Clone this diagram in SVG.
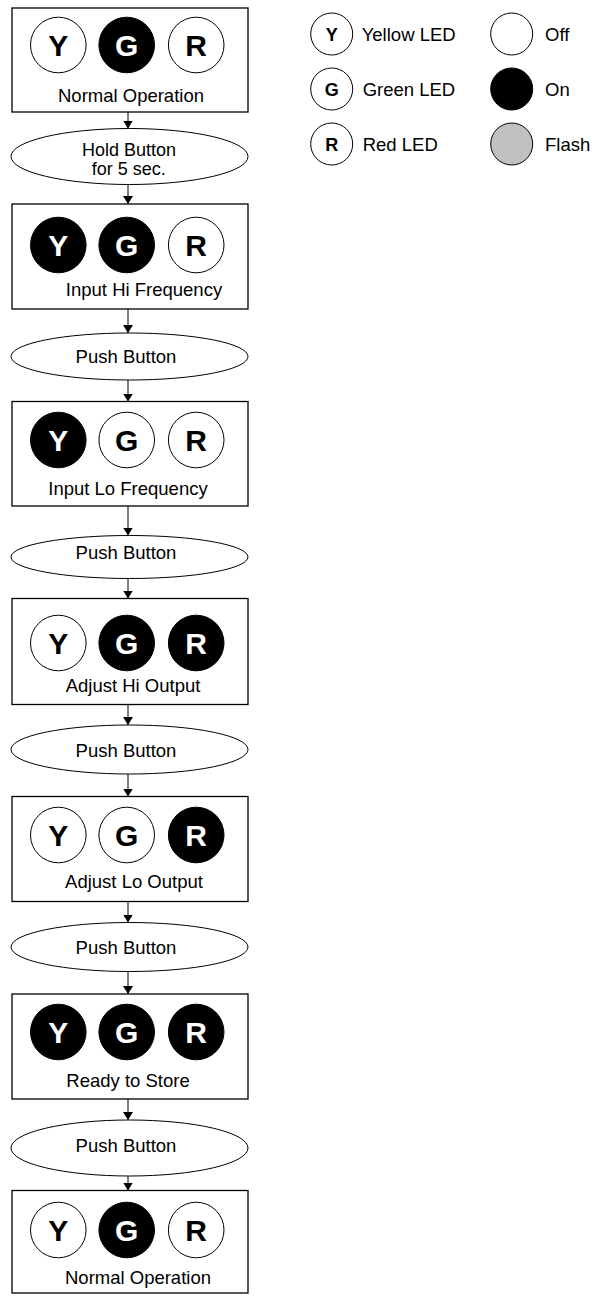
<svg xmlns="http://www.w3.org/2000/svg" width="594" height="1296" viewBox="0 0 594 1296">
<style>
text{font-family:"Liberation Sans",Arial,sans-serif;fill:#000}
.lbl{font-size:18.5px;text-anchor:middle}
.lbl2{font-size:18px;text-anchor:middle}
.leg{font-size:18.5px}
.L{font-size:30px;font-weight:bold;text-anchor:middle}
.Lw{font-size:30px;font-weight:bold;text-anchor:middle;fill:#fff}
.lg{font-size:18px;font-weight:bold;text-anchor:middle}
.box{fill:#fff;stroke:#000;stroke-width:1.3}
.off{fill:#fff;stroke:#000;stroke-width:1}
.on{fill:#000;stroke:#000;stroke-width:1}
.fl{fill:#c0c0c0;stroke:#000;stroke-width:1}
.ell{fill:#fff;stroke:#000;stroke-width:1}
.con{stroke:#000;stroke-width:1;fill:none;marker-end:url(#ah)}
</style>
<defs>
<marker id="ah" viewBox="0 0 8 10" refX="8" refY="5" markerWidth="8" markerHeight="10" orient="auto" markerUnits="userSpaceOnUse">
<path d="M0,0 L8,5 L0,10 z" fill="#000"/>
</marker>
</defs>
<g id="connectors">
<path class="con" d="M128,112 V128.5"/>
<path class="con" d="M128,184.5 V204"/>
<path class="con" d="M128,309 V333"/>
<path class="con" d="M128,380 V401.5"/>
<path class="con" d="M128,506 V535.5"/>
<path class="con" d="M128,578.5 V598.5"/>
<path class="con" d="M128,704.5 V725"/>
<path class="con" d="M128,774 V796.5"/>
<path class="con" d="M128,901.5 V922.5"/>
<path class="con" d="M128,971.5 V994"/>
<path class="con" d="M128,1099 V1120"/>
<path class="con" d="M128,1176 V1190.5"/>
</g>
<g id="state1">
<rect class="box" x="12" y="8" width="236" height="104"/>
<circle class="off" cx="58.3" cy="45" r="27.8"/><text class="L" x="58.3" y="55.5">Y</text>
<circle class="on" cx="126.7" cy="45" r="27.8"/><text class="Lw" x="126.7" y="55.5">G</text>
<circle class="off" cx="196.2" cy="45" r="27.8"/><text class="L" x="196.2" y="55.5">R</text>
<text class="lbl" x="131" y="101.5">Normal Operation</text>
</g>
<g id="event1">
<ellipse class="ell" cx="129.5" cy="156.5" rx="118.5" ry="28"/>
<text class="lbl2" x="129" y="155.5">Hold Button</text>
<text class="lbl2" x="128.7" y="175">for 5 sec.</text>
</g>
<g id="state2">
<rect class="box" x="12" y="204" width="236" height="105"/>
<circle class="on" cx="58.3" cy="245" r="27.8"/><text class="Lw" x="58.3" y="255.5">Y</text>
<circle class="on" cx="126.7" cy="245" r="27.8"/><text class="Lw" x="126.7" y="255.5">G</text>
<circle class="off" cx="196.2" cy="245" r="27.8"/><text class="L" x="196.2" y="255.5">R</text>
<text class="lbl" x="144" y="296">Input Hi Frequency</text>
</g>
<g id="event2">
<ellipse class="ell" cx="129.5" cy="356.5" rx="118.5" ry="23.5"/>
<text class="lbl" x="126" y="362.7">Push Button</text>
</g>
<g id="state3">
<rect class="box" x="12" y="401.5" width="236" height="104.5"/>
<circle class="on" cx="58.3" cy="440" r="27.8"/><text class="Lw" x="58.3" y="450.5">Y</text>
<circle class="off" cx="126.7" cy="440" r="27.8"/><text class="L" x="126.7" y="450.5">G</text>
<circle class="off" cx="196.2" cy="440" r="27.8"/><text class="L" x="196.2" y="450.5">R</text>
<text class="lbl" x="128" y="495">Input Lo Frequency</text>
</g>
<g id="event3">
<ellipse class="ell" cx="129.5" cy="557" rx="118.5" ry="21.5"/>
<text class="lbl" x="126" y="559.3">Push Button</text>
</g>
<g id="state4">
<rect class="box" x="12" y="598.5" width="236" height="106"/>
<circle class="off" cx="58.3" cy="643" r="27.8"/><text class="L" x="58.3" y="653.5">Y</text>
<circle class="on" cx="126.7" cy="643" r="27.8"/><text class="Lw" x="126.7" y="653.5">G</text>
<circle class="on" cx="196.2" cy="643" r="27.8"/><text class="Lw" x="196.2" y="653.5">R</text>
<text class="lbl" x="133" y="692.3">Adjust Hi Output</text>
</g>
<g id="event4">
<ellipse class="ell" cx="129.5" cy="749.5" rx="118.5" ry="24.5"/>
<text class="lbl" x="126" y="756.7">Push Button</text>
</g>
<g id="state5">
<rect class="box" x="12" y="796.5" width="236" height="105"/>
<circle class="off" cx="58.3" cy="835" r="27.8"/><text class="L" x="58.3" y="845.5">Y</text>
<circle class="off" cx="126.7" cy="835" r="27.8"/><text class="L" x="126.7" y="845.5">G</text>
<circle class="on" cx="196.2" cy="835" r="27.8"/><text class="Lw" x="196.2" y="845.5">R</text>
<text class="lbl" x="134" y="888.3">Adjust Lo Output</text>
</g>
<g id="event5">
<ellipse class="ell" cx="129.5" cy="947" rx="118.5" ry="24.5"/>
<text class="lbl" x="126" y="954.3">Push Button</text>
</g>
<g id="state6">
<rect class="box" x="12" y="994" width="236" height="105"/>
<circle class="on" cx="58.3" cy="1032" r="27.8"/><text class="Lw" x="58.3" y="1042.5">Y</text>
<circle class="on" cx="126.7" cy="1032" r="27.8"/><text class="Lw" x="126.7" y="1042.5">G</text>
<circle class="on" cx="196.2" cy="1032" r="27.8"/><text class="Lw" x="196.2" y="1042.5">R</text>
<text class="lbl" x="128" y="1086.7">Ready to Store</text>
</g>
<g id="event6">
<ellipse class="ell" cx="129.5" cy="1148" rx="118.5" ry="28"/>
<text class="lbl" x="126" y="1151.7">Push Button</text>
</g>
<g id="state7">
<rect class="box" x="12" y="1190.5" width="236" height="102.5"/>
<circle class="off" cx="58.3" cy="1230" r="27.8"/><text class="L" x="58.3" y="1240.5">Y</text>
<circle class="on" cx="126.7" cy="1230" r="27.8"/><text class="Lw" x="126.7" y="1240.5">G</text>
<circle class="off" cx="196.2" cy="1230" r="27.8"/><text class="L" x="196.2" y="1240.5">R</text>
<text class="lbl" x="138" y="1284.3">Normal Operation</text>
</g>
<g id="legend">
<circle class="off" cx="331.7" cy="34" r="21"/><text class="lg" x="331.7" y="40.5">Y</text>
<text class="leg" x="361.7" y="40.7">Yellow LED</text>
<circle class="off" cx="331.7" cy="89" r="21"/><text class="lg" x="331.7" y="95.5">G</text>
<text class="leg" x="362.7" y="95.7">Green LED</text>
<circle class="off" cx="331.7" cy="144" r="21"/><text class="lg" x="331.7" y="150.5">R</text>
<text class="leg" x="362.7" y="150.7">Red LED</text>
<circle class="off" cx="511.7" cy="34" r="21"/>
<text class="leg" x="545" y="40.7">Off</text>
<circle class="on" cx="511.7" cy="89" r="21"/>
<text class="leg" x="545" y="95.7">On</text>
<circle class="fl" cx="511.7" cy="144" r="21"/>
<text class="leg" x="545" y="150.7">Flash</text>
</g>
</svg>
